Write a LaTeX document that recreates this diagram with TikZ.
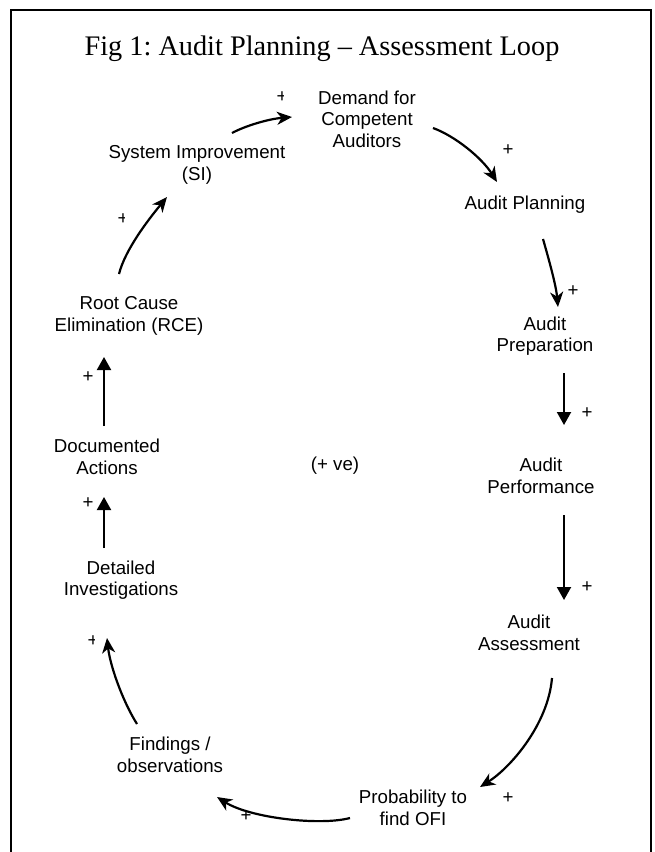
\documentclass[tikz,border=0pt]{standalone}
\usepackage{fontspec}
\newfontfamily\labelfont{Liberation Sans}
\newfontfamily\titlefont[Ligatures=TeX]{Liberation Serif}
\usetikzlibrary{arrows.meta}
\frenchspacing
\begin{document}
\begin{tikzpicture}[x=1pt,y=-1pt,
  lbl/.style={font=\labelfont\fontsize{18.7}{21.5}\selectfont, align=center, inner sep=0pt},
  sgn/.style={font=\labelfont\fontsize{18.7}{21.5}\selectfont, inner sep=0pt},
  link/.style={line width=2.2pt, -{Stealth[length=15pt,width=13pt,inset=4.5pt]}},
  vlink/.style={line width=2pt, -{Triangle[length=13pt,width=14pt]}},
]
\useasboundingbox (0,0) rectangle (654,852);
\fill[white] (0,0) rectangle (654,852);

% open frame (top and sides)
\draw[line width=1.5pt] (11,853) -- (11,10) -- (651,10) -- (651,853);

% title
\node[font=\titlefont\fontsize{28.3}{32}\selectfont, anchor=base, inner sep=0pt] (title) at (322,55.5)
  {Fig 1: Audit Planning \textendash{} Assessment Loop};

% loop variables
\node[lbl] (dem)    at (367,119) {Demand for\\Competent\\Auditors};
\node[lbl] (plan)   at (525,205) {Audit Planning};
\node[lbl] (prep)   at (545,336) {Audit\\Preparation};
\node[lbl] (perf)   at (541,476) {Audit\\Performance};
\node[lbl] (assess) at (529,633) {Audit\\Assessment};
\node[lbl] (prob)   at (413,808) {Probability to\\find OFI};
\node[lbl] (find)   at (170,755) {Findings /\\observations};
\node[lbl] (det)    at (121,580) {Detailed\\Investigations};
\node[lbl] (doc)    at (107,457) {Documented\\Actions};
\node[lbl] (rce)    at (129,316) {Root Cause\\Elimination (RCE)};
\node[lbl] (si)     at (197,165) {System Improvement\\(SI)};
\node[lbl] (loop)   at (335,466) {(+ ve)};

% connector end points
\coordinate (si-o)  at (232,133);  \coordinate (dem-i)  at (292,117);
\coordinate (dem-o) at (433,128);  \coordinate (plan-i) at (497,182);
\coordinate (plan-o) at (543,239); \coordinate (prep-i) at (558,307);
\coordinate (prep-o) at (564,373); \coordinate (perf-i) at (564,425);
\coordinate (perf-o) at (564,515); \coordinate (ass-i)  at (564,600);
\coordinate (ass-o) at (552,678);  \coordinate (prob-i) at (480,787);
\coordinate (prob-o) at (350,818); \coordinate (find-i) at (217,797);
\coordinate (find-o) at (137,724); \coordinate (det-i)  at (107,638);
\coordinate (det-o) at (104,548);  \coordinate (doc-i)  at (104,497);
\coordinate (doc-o) at (104,426);  \coordinate (rce-i)  at (104,357);
\coordinate (rce-o) at (119,274);  \coordinate (si-i)   at (167,197);

% causal links
\draw[link] (si-o) .. controls (245,126) and (268,119) .. (dem-i);
\draw[link] (dem-o) .. controls (455,136) and (482,158) .. (plan-i);
\draw[link] (plan-o) .. controls (549,260) and (556,285) .. (prep-i);
\draw[vlink] (prep-o) -- (perf-i);
\draw[vlink] (perf-o) -- (ass-i);
\draw[link] (ass-o) .. controls (548,725) and (510,768) .. (prob-i);
\draw[link] (prob-o) .. controls (320,826) and (250,818) .. (find-i);
\draw[link] (find-o) .. controls (122,700) and (110,665) .. (det-i);
\draw[vlink] (det-o) -- (doc-i);
\draw[vlink] (doc-o) -- (rce-i);
\draw[link] (rce-o) .. controls (125,250) and (148,220) .. (si-i);

% polarity signs
\node[sgn] (s-plan)   at (508,150) {+};
\node[sgn] (s-prep)   at (573,291) {+};
\node[sgn] (s-perf)   at (587,413) {+};
\node[sgn] (s-assess) at (587,587) {+};
\node[sgn] (s-prob)   at (508,798) {+};
\node[sgn] (s-find)   at (246,816) {+};
\node[sgn] (s-doc)    at (88,503) {+};
\node[sgn] (s-rce)    at (88,377) {+};

% signs cut off on their right side
\begin{scope}
  \clip (270,85) rectangle (283,110);
  \node[sgn] (s-dem) at (282,97) {+};
\end{scope}
\begin{scope}
  \clip (111,207) rectangle (124,232);
  \node[sgn] (s-si) at (123,219) {+};
\end{scope}
\begin{scope}
  \clip (81,629) rectangle (94,654);
  \node[sgn] (s-det) at (93,641) {+};
\end{scope}
\end{tikzpicture}
\end{document}
